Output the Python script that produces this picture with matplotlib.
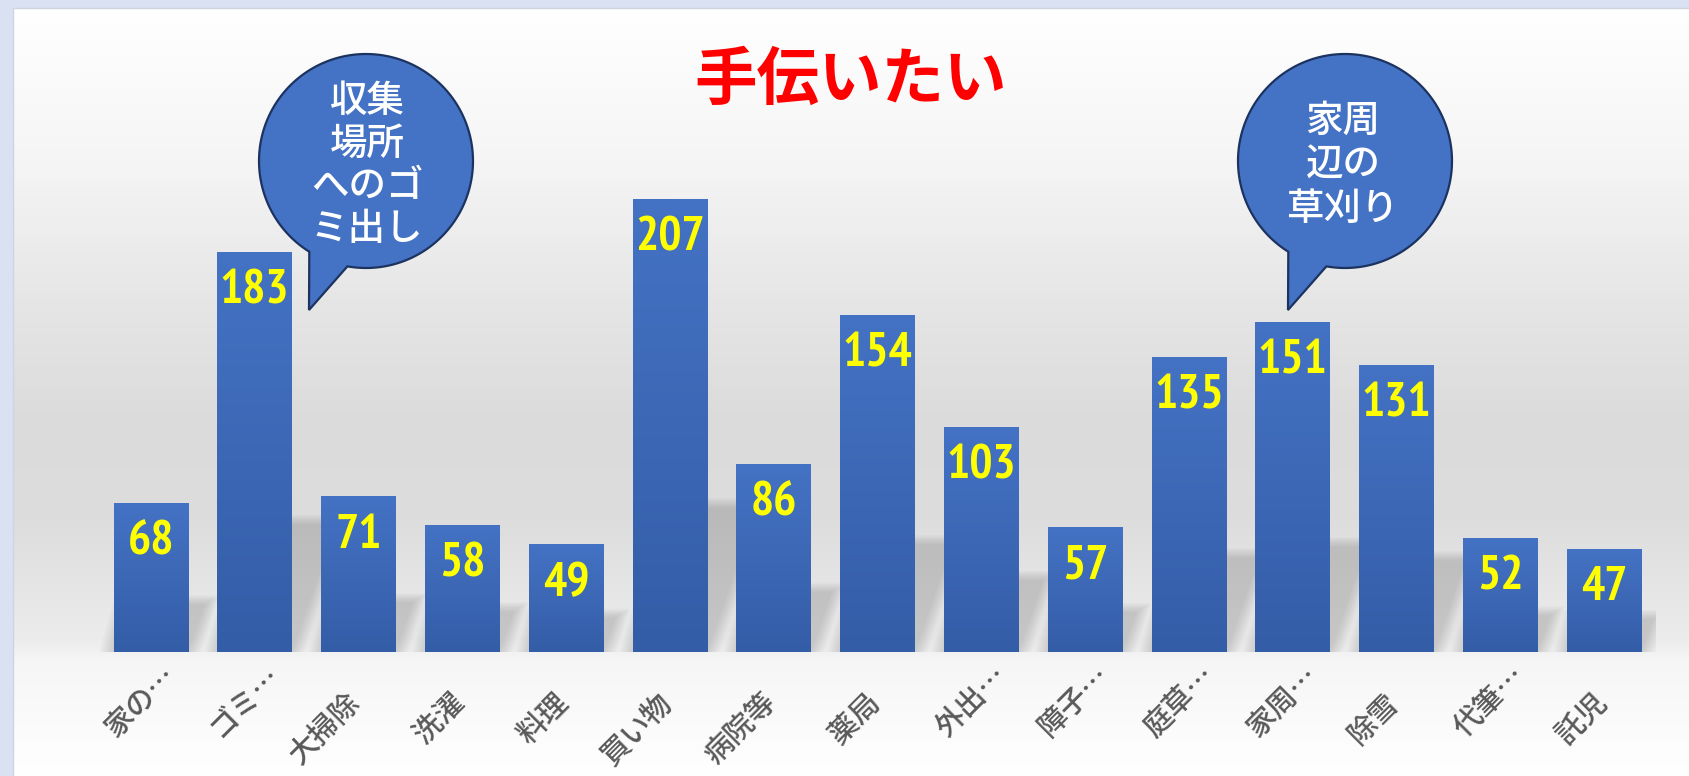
import numpy as np
import matplotlib
matplotlib.use("Agg")
import matplotlib.pyplot as plt
from matplotlib import font_manager
from matplotlib.font_manager import FontProperties
from matplotlib.path import Path
from matplotlib.patches import PathPatch, Polygon
from matplotlib.colors import LinearSegmentedColormap

plt.rcParams['font.family'] = ['Noto Sans CJK JP', 'DejaVu Sans']

# データ
categories = ["家の…", "ゴミ…", "大掃除", "洗濯", "料理", "買い物", "病院等", "薬局",
              "外出…", "障子…", "庭草…", "家周…", "除雪", "代筆…", "託児"]
values = [68, 183, 71, 58, 49, 207, 86, 154, 103, 57, 135, 151, 131, 52, 47]
title = "手伝いたい"
callout_left = "収集\n場所\nへのゴ\nミ出し"
callout_right = "家周\n辺の\n草刈り"


def narrow_bold_font(size=35):
    # 数字ラベル用: 細め (Narrow/Condensed) の太字ファイルを探す
    prefs = ["Liberation Sans Narrow", "Arial Narrow", "Archivo Narrow", "PT Sans Narrow",
             "Roboto Condensed", "Barlow Semi Condensed", "Asap Condensed"]
    for name in prefs:
        for f in font_manager.fontManager.ttflist:
            w = f.weight if isinstance(f.weight, int) else font_manager.weight_dict.get(f.weight, 400)
            if f.name == name and f.style == "normal" and 700 <= w < 800 \
                    and "Italic" not in f.fname:
                return FontProperties(fname=f.fname, size=size)
    return FontProperties(family="DejaVu Sans", weight="bold", size=27)


num_fp = narrow_bold_font()

W, H = 1689, 776
fig = plt.figure(figsize=(W / 100, H / 100), dpi=100)

# 背景 (枠 + グラデーション)
bg = fig.add_axes([0, 0, 1, 1], zorder=0)
bg.add_patch(plt.Rectangle((0, 0), W, H, color="#D9E1F2", zorder=0))
rows = np.arange(8, H)
stops_y = [8, 150, 300, 420, 520, 640, 660, 776]
stops_g = [255, 246, 230, 219, 221, 236, 246, 255]
shade = np.interp(rows, stops_y, stops_g) / 255.0
img = np.repeat(shade[:, None, None], 3, axis=2)
bg.imshow(img, extent=(13, W, H, 8), aspect="auto", interpolation="bilinear", zorder=1)
bg.plot([13, 13, W], [H, 8, 8], color="#D0D4DC", lw=1, zorder=2)
bg.set_xlim(0, W)
bg.set_ylim(H, 0)
bg.axis("off")

# メインの棒グラフ
px_per_unit = 2.184
ax = fig.add_axes([99 / W, 124 / H, 1557 / W, 592 / H], zorder=1)
ax.patch.set_alpha(0)
x = np.arange(len(values))
bars = ax.bar(x, values, width=0.72, color="#3E6BBA", zorder=3)

# 影 (ぼかし風に重ねる)
for b in bars:
    x0, w, h = b.get_x(), b.get_width(), b.get_height()
    hs = 0.32 * h
    shift = 0.35 * hs * px_per_unit / 103.8
    for k in range(8):
        e = 0.02 * k
        poly = Polygon([(x0 - e, 0), (x0 + w + e, 0),
                        (x0 + w + shift + e, hs + e * 30),
                        (x0 + shift - e, hs + e * 30)],
                       closed=True, facecolor="#606060", edgecolor="none",
                       alpha=0.035, zorder=1)
        ax.add_patch(poly)

# 棒のグラデーション
cmap = LinearSegmentedColormap.from_list("bar", ["#345DA7", "#4472C4"])
grad = np.linspace(0, 1, 256)[:, None]
for b in bars:
    x0, w, h = b.get_x(), b.get_width(), b.get_height()
    ax.imshow(grad, extent=(x0, x0 + w, 0, h), origin="lower", cmap=cmap,
              aspect="auto", zorder=3.5)

for i, v in enumerate(values):
    ax.annotate(str(v), xy=(i, v), xytext=(0, -39), textcoords="offset pixels",
                ha="center", va="center", color="#FFFF00",
                fontproperties=num_fp, zorder=5)

for i, lab in enumerate(categories):
    off = (21, -19) if lab.endswith("…") else (-2, -46)
    ax.annotate(lab, xy=(i, 0), xytext=off, textcoords="offset pixels",
                rotation=45, rotation_mode="anchor", ha="right", va="center",
                color="#595959", fontsize=21, fontweight="medium",
                annotation_clip=False)

ax.set_xlim(-0.5, len(values) - 0.5)
ax.set_ylim(0, 592 / px_per_unit)
ax.axis("off")

# 吹き出しとタイトル
ov = fig.add_axes([0, 0, 1, 1], zorder=2)
ov.set_xlim(0, W)
ov.set_ylim(H, 0)
ov.axis("off")
ov.patch.set_alpha(0)


def bubble(cx, cy, r, tip, t_left=122, t_right=100):
    ts = np.radians(np.linspace(t_left, t_right + 360, 200))
    pts = [(cx + r * np.cos(t), cy + r * np.sin(t)) for t in ts]
    pts.append(tip)
    pts.append(pts[0])
    codes = [Path.MOVETO] + [Path.LINETO] * (len(pts) - 2) + [Path.CLOSEPOLY]
    ov.add_patch(PathPatch(Path(pts, codes), facecolor="#4472C4",
                           edgecolor="#1C3360", lw=1.6))


bubble(366, 161, 107, (309, 310))
bubble(1345, 161, 107, (1288, 310))
ov.text(367, 165, callout_left, ha="center", va="center", color="white",
        fontsize=27, linespacing=1.15, fontweight="medium")
ov.text(1343, 165, callout_right, ha="center", va="center", color="white",
        fontsize=27, linespacing=1.2, fontweight="medium")
ov.text(851, 80, title, ha="center", va="center", color="#FF0000",
        fontsize=45, fontweight="bold")

fig.savefig("out.png", dpi=100)
